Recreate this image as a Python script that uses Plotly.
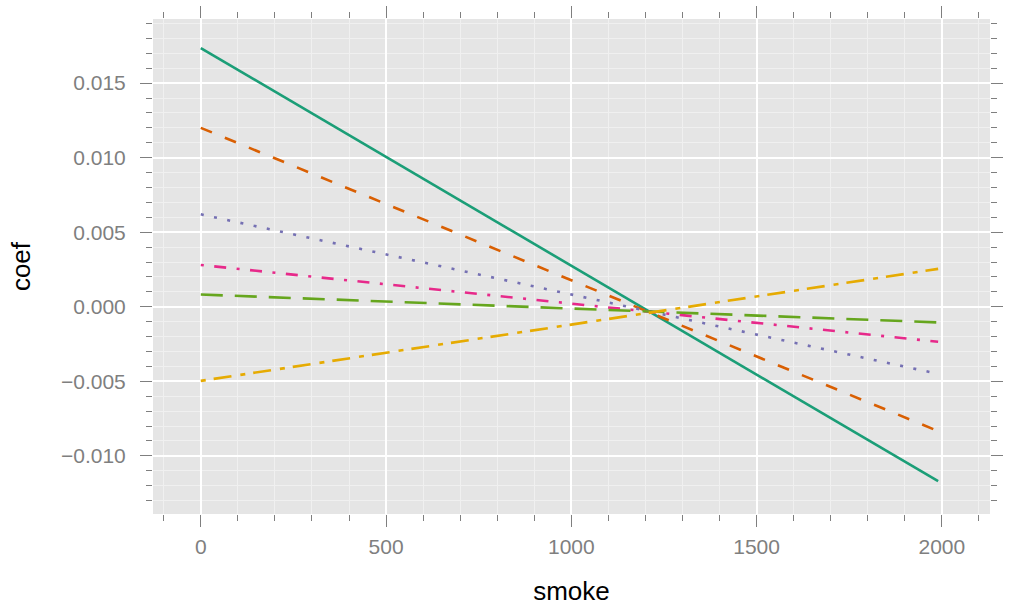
import plotly.graph_objects as go

# Data: each line is a straight fit over smoke
smoke = [0, 1990]
series_names = ["a", "b", "c", "d", "e", "f"]
coef_start = [0.01735, 0.0120, 0.0062, 0.0028, 0.00082, -0.00497]
coef_end = [-0.0117, -0.00834, -0.0045, -0.00235, -0.00105, 0.00254]

colors = ["#1B9E77", "#D95F02", "#7570B3", "#E7298A", "#66A61E", "#E6AB02"]
dashes = ["solid", "12px,14px", "3px,10.5px", "3px,10.5px,12px,10.5px",
          "22px,12px", "5px,8px,18px,9px"]

fig = go.Figure()
for name, y0, y1, c, d in zip(series_names, coef_start, coef_end, colors, dashes):
    fig.add_trace(go.Scatter(
        x=smoke, y=[y0, y1], mode="lines", name=name,
        line=dict(color=c, width=2.6, dash=d), showlegend=False,
    ))

tick_font = dict(family="Liberation Sans, Arial, sans-serif", size=21, color="#7F7F7F")
title_font = dict(family="Liberation Sans, Arial, sans-serif", size=26, color="#000000")

fig.update_layout(
    width=1027, height=608,
    margin=dict(l=153, r=37, t=19, b=94),
    paper_bgcolor="white",
    plot_bgcolor="#E5E5E5",
    showlegend=False,
)

fig.update_xaxes(
    range=[-129, 2130], automargin=False,
    tickmode="array", tickvals=[0, 500, 1000, 1500, 2000],
    ticktext=["0", "500", "1000", "1500", "2000"],
    ticks="outside", ticklen=12, tickwidth=1.2, tickcolor="#7F7F7F",
    mirror="ticks", showline=False, zeroline=False,
    showgrid=True, gridcolor="white", gridwidth=1.6,
    minor=dict(dtick=100, tick0=0, ticks="outside", ticklen=6, tickwidth=1,
               tickcolor="#7F7F7F", showgrid=True, gridcolor="#F0F0F0", gridwidth=1),
    tickfont=tick_font, ticklabelstandoff=2,
    title=dict(text="smoke", font=title_font, standoff=24),
)
fig.update_yaxes(
    range=[-0.0139, 0.0193], automargin=False,
    tickmode="array", tickvals=[-0.010, -0.005, 0.0, 0.005, 0.010, 0.015],
    tickformat=".3f",
    ticks="outside", ticklen=12, tickwidth=1.2, tickcolor="#7F7F7F",
    mirror="ticks", showline=False, zeroline=False,
    showgrid=True, gridcolor="white", gridwidth=1.6,
    minor=dict(dtick=0.001, tick0=0, ticks="outside", ticklen=6, tickwidth=1,
               tickcolor="#7F7F7F", showgrid=True, gridcolor="#F0F0F0", gridwidth=1),
    tickfont=tick_font, ticklabelstandoff=10,
    title=dict(text="coef", font=title_font, standoff=22),
)

fig.write_html("out.html")
